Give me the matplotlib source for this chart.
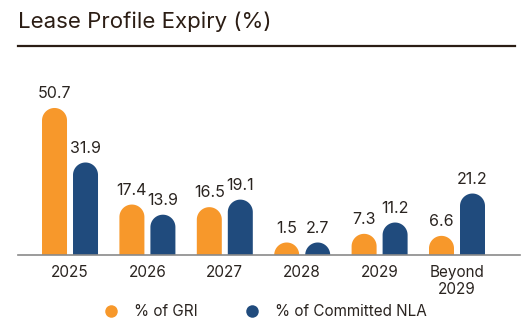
import numpy as np
import matplotlib.pyplot as plt
from matplotlib.patches import Polygon
from matplotlib.lines import Line2D

categories = ['2025', '2026', '2027', '2028', '2029', 'Beyond\n2029']
gri = [50.7, 17.4, 16.5, 1.5, 7.3, 6.6]
nla = [31.9, 13.9, 19.1, 2.7, 11.2, 21.2]
series_names = ['% of GRI', '% of Committed NLA']
colors = ['#F7982B', '#204B7D']

W, H = 530, 331
fig = plt.figure(figsize=(W / 100, H / 100), dpi=100)
plt.rcParams['font.family'] = ['Inter', 'DejaVu Sans']

# axes box in pixels: left 18, right 520, baseline 255, top 90
ax = fig.add_axes([18 / W, 1 - 255 / H, 502 / W, 165 / H])
xmin, xmax = -0.672, 5.814
ymin, ymax = 0, 56.9
ax.set_xlim(xmin, xmax)
ax.set_ylim(ymin, ymax)
sx = 502 / (xmax - xmin)   # px per x unit
sy = 165 / (ymax - ymin)   # px per y unit

bar_w = 25 / sx
offset = 15.5 / sx
rx = bar_w / 2
ry = (25 / 2) / sy

x = np.arange(len(categories))
theta = np.linspace(np.pi, 0, 40)
for vals, col, sgn in [(gri, colors[0], -1), (nla, colors[1], 1)]:
    for xi, v in zip(x, vals):
        xc = xi + sgn * offset
        top = max(v, ry)
        arc_x = xc + rx * np.cos(theta)
        arc_y = (top - ry) + ry * np.sin(theta)
        pts = np.column_stack([
            np.concatenate([[xc - rx], arc_x, [xc + rx]]),
            np.concatenate([[0], arc_y, [0]]),
        ])
        ax.add_patch(Polygon(pts, closed=True, facecolor=col, edgecolor='none'))
        ax.annotate(f'{v}', (xc, top), xytext=(0, 5), textcoords='offset points',
                    ha='center', va='bottom', fontsize=11.5, color='#2a2420')

for s in ['top', 'right', 'left']:
    ax.spines[s].set_visible(False)
ax.spines['bottom'].set_color('#8a8a8a')
ax.spines['bottom'].set_linewidth(1.2)
ax.set_yticks([])
ax.set_xticks(x)
ax.set_xticklabels(categories, fontsize=11, color='#2a2420', linespacing=1.15)
ax.tick_params(axis='x', length=0, pad=7)

# title and rule
fig.text(18 / W, 1 - 22 / H, 'Lease Profile Expiry (%)', fontsize=16,
         color='#2b1d14', va='center', ha='left')
fig.add_artist(Line2D([18 / W, 515 / W], [1 - 46 / H, 1 - 46 / H],
                      color='#2b1d14', linewidth=1.6))

handles = [Line2D([], [], marker='o', linestyle='none', markersize=9,
                  markerfacecolor=c, markeredgecolor='none') for c in colors]
fig.legend(handles, series_names, loc='center', bbox_to_anchor=(0.493, 1 - 312 / H),
           ncol=2, frameon=False, fontsize=11, handletextpad=0.5,
           columnspacing=2.6, labelcolor='#2a2420')

fig.savefig('out.png', dpi=100)
